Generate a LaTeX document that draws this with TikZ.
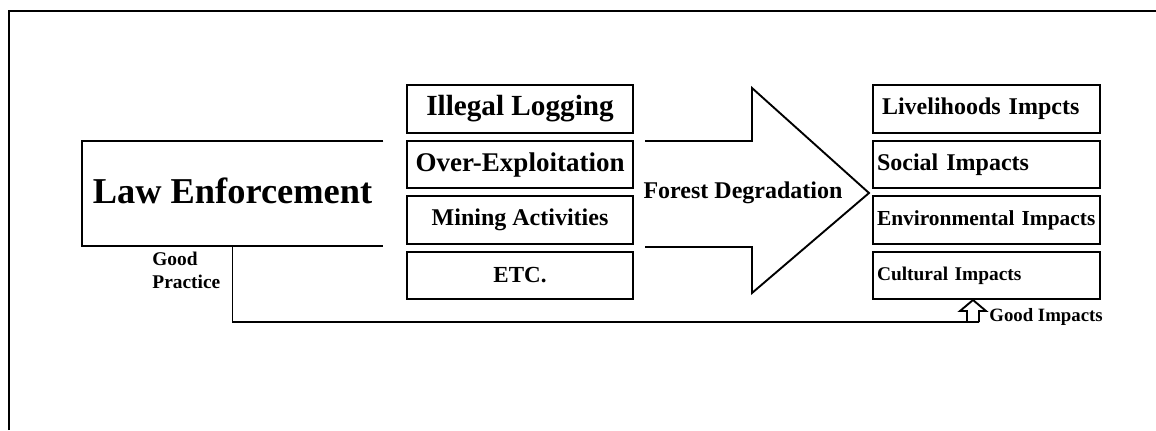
\documentclass[tikz,border=0pt]{standalone}
\usepackage{fontspec}
\setmainfont{Liberation Serif}
\newcommand{\bfsz}[1]{\fontsize{#1}{1.2\dimexpr#1pt\relax}\selectfont\bfseries}
\begin{document}
\begin{tikzpicture}[x=0.5pt,y=-0.5pt]
			\tikzstyle{every node}+=[inner sep=0pt]
			\tikzstyle{cause}=[draw, line width=0.95pt, minimum width=113pt, minimum height=23.75pt]
			\tikzstyle{impact}=[draw, line width=0.95pt, minimum width=113.5pt, minimum height=23.75pt, inner xsep=2pt, text width=109.5pt, align=left]
			\useasboundingbox (0,0) rectangle (1156,430);
			\draw [line width=0.95pt] (9,430) -- (9,11) -- (1156,11);
			\node (law) [minimum width=150.5pt, minimum height=52.5pt, font=\bfsz{18.2}] at (232.5,193.5) {\raisebox{2.5pt}{Law Enforcement}};
			\draw [line width=0.95pt] (law.north east) -- (law.north west) -- (law.south west) -- (law.south east);
			\node (logging) [cause, font=\bfsz{14.6}] at (520,109) {Illegal Logging};
			\node (overex) [cause, font=\bfsz{13.5}] at (520,164.5) {Over-Exploitation};
			\node (mining) [cause, font=\bfsz{12}] at (520,220) {Mining Activities};
			\node (etc) [cause, font=\bfsz{11.5}] at (520,275.5) {ETC.};
			\node (degr) [font=\bfsz{12}] at (743,193) {Forest Degradation};
			\draw [line width=0.95pt] (645,141) -- (752,141) -- (752,88) -- (869,193) -- (752,293) -- (752,247) -- (645,247);
			\node (liveli) [impact, font=\bfsz{12}] at (986.5,109) {\hspace*{2.5pt}Livelihoods Impcts};
			\node (social) [impact, font=\bfsz{12}] at (986.5,164.5) {Social Impacts};
			\node (envir) [impact, font=\bfsz{10.7}] at (986.5,220) {Environmental Impacts};
			\node (cult) [impact, font=\bfsz{9.7}] at (986.5,275.5) {Cultural Impacts};
			\node (gp) [anchor=north west, align=left, font=\fontsize{9.7}{11.5}\selectfont\bfseries] at (152,252) {Good\\Practice};
			\coordinate (gi) at (979,322);
			\draw [line width=0.95pt] (law.south) |- (gi);
			\draw [line width=0.95pt] (gi) -- ++(0,-11) -- ++(7,0) -- ++(-13,-11) -- ++(-13,11) -- ++(7,0) -- ++(0,11);
			\node (good) [anchor=west, font=\bfsz{9.4}] at (989,317) {Good Impacts};
\end{tikzpicture}
\end{document}
